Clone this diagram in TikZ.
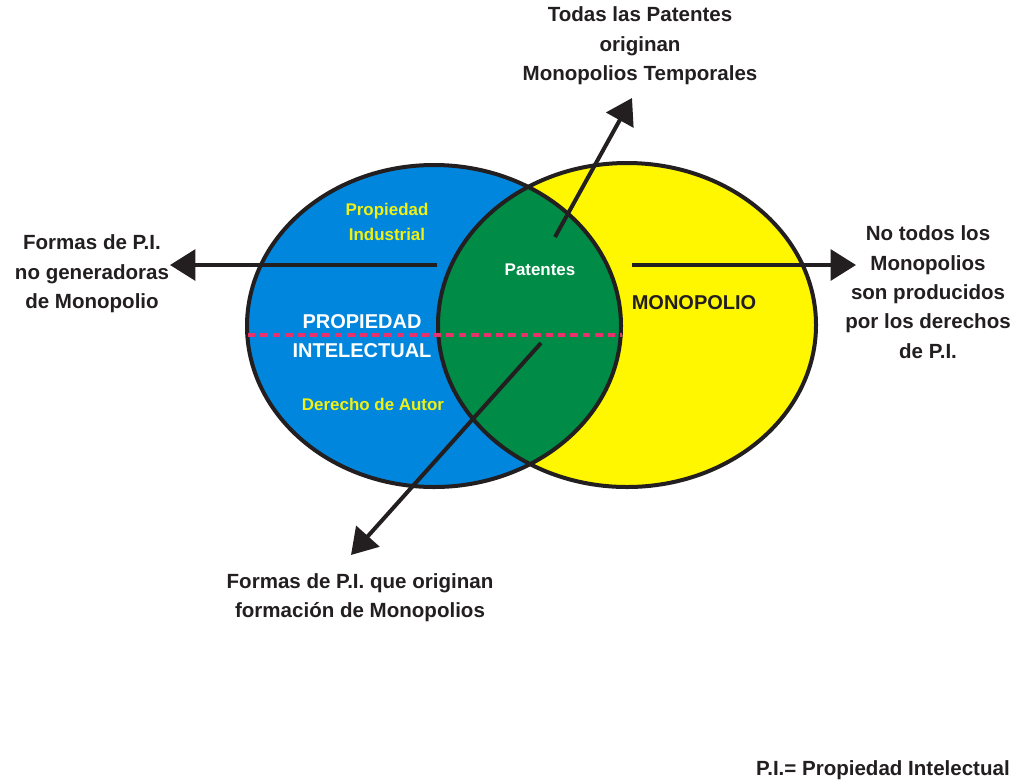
\documentclass[tikz,border=0pt]{standalone}
\usepackage{fontspec}
\setmainfont{Liberation Sans}
\usetikzlibrary{arrows.meta}
\definecolor{piblue}{RGB}{0,134,220}
\definecolor{pigreen}{RGB}{0,140,70}
\definecolor{piyellow}{RGB}{255,247,0}
\definecolor{pilabel}{RGB}{240,240,20}
\definecolor{outline}{RGB}{35,31,32}
\definecolor{pidash}{RGB}{232,50,110}
\tikzset{
  ring/.style={draw=outline,line width=3pt},
  pointer/.style={draw=outline,line width=3pt,-{Triangle[length=19pt,width=23pt]}},
  caption/.style={align=center,font=\bfseries\fontsize{15.4pt}{22pt}\selectfont,text=outline,inner sep=0pt},
  inlabel/.style={align=center,font=\bfseries\fontsize{12.7pt}{18.7pt}\selectfont,inner sep=0pt},
  biglabel/.style={align=center,font=\bfseries\fontsize{15pt}{22pt}\selectfont,inner sep=0pt}
}
\begin{document}
\begin{tikzpicture}[x=0.75pt,y=-0.75pt]
\useasboundingbox[fill=white] (0,0) rectangle (1012,783);
% the two sets
\fill[piblue] (434,326) ellipse [x radius=187,y radius=161];
\fill[piyellow] (627,325) ellipse [x radius=189,y radius=162];
\begin{scope}
  \clip (434,326) ellipse [x radius=187,y radius=161];
  \fill[pigreen] (627,325) ellipse [x radius=189,y radius=162];
\end{scope}
\draw[ring] (434,326) ellipse [x radius=187,y radius=161];
\draw[ring] (627,325) ellipse [x radius=189,y radius=162];
% dividing line
\coordinate (dl) at (248,335);
\coordinate (dr) at (622,335);
\draw[pidash,line width=3pt,dash pattern=on 5.5pt off 3.8pt] (dl) -- (dr);
% labels inside the sets
\node[inlabel,text=pilabel] (pind) at (387,222) {Propiedad\\Industrial};
\node[inlabel,text=white] (pat) at (540,270) {Patentes};
\node[biglabel,text=white] (pint) at (362,336) {PROPIEDAD\\INTELECTUAL};
\node[inlabel,text=pilabel] (dauth) at (373,404) {Derecho de Autor};
\node[biglabel,text=outline] (mono) at (694,303) {MONOPOLIO};
% captions outside
\node[caption] (ctop) at (640,46) {Todas las Patentes\\originan\\Monopolios Temporales};
\node[caption] (cleft) at (92,274) {Formas de P.I.\\no generadoras\\de Monopolio};
\node[caption] (cright) at (928,292) {No todos los\\Monopolios\\son producidos\\por los derechos\\de P.I.};
\node[caption] (cbot) at (360,598) {Formas de P.I. que originan\\formación de Monopolios};
\node[caption,anchor=east] (note) at (1010,770) {P.I.= Propiedad Intelectual};
% pointers
\coordinate (a1s) at (437,265);
\coordinate (a1e) at (170,265);
\coordinate (a2s) at (632,265);
\coordinate (a2e) at (856,265);
\coordinate (a3s) at (555,237);
\coordinate (a3e) at (632,98);
\coordinate (a4s) at (541,343);
\coordinate (a4e) at (351,555);
\draw[pointer] (a1s) -- (a1e);
\draw[pointer] (a2s) -- (a2e);
\draw[pointer] (a3s) -- (a3e);
\draw[pointer] (a4s) -- (a4e);
\end{tikzpicture}
\end{document}
